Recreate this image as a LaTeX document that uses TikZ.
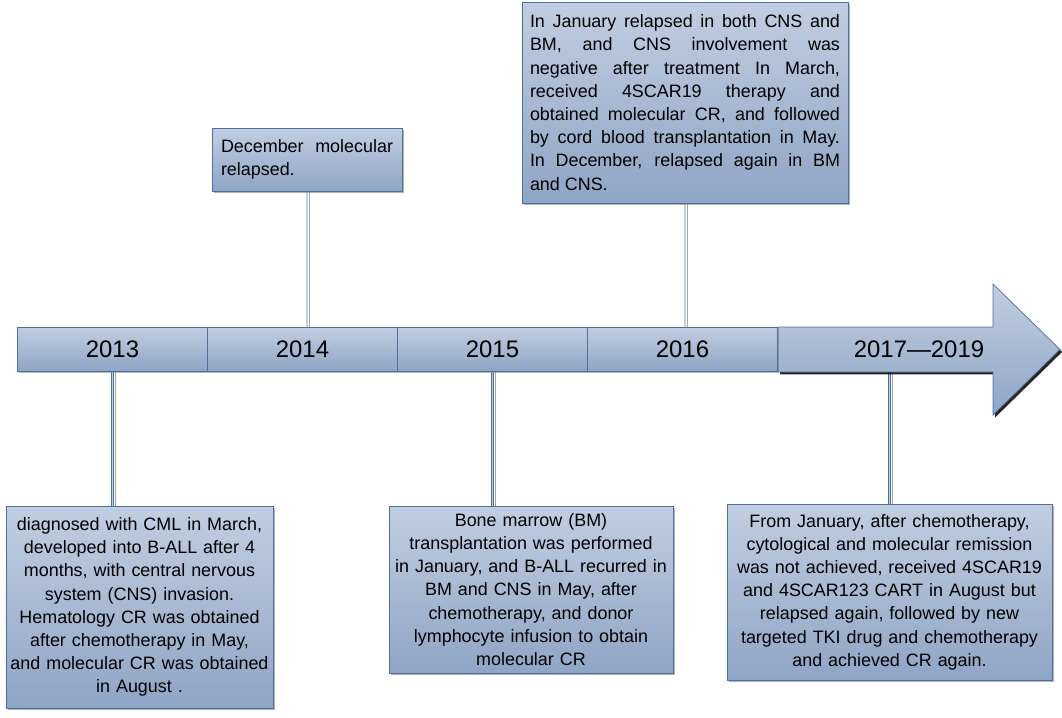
\documentclass[tikz,border=0pt]{standalone}
\usepackage{fontspec}
\setmainfont{Liberation Sans}
\usetikzlibrary{shadows}
\pgfdeclarelayer{bg}
\pgfsetlayers{bg,main}
\definecolor{boxtop}{HTML}{C0CEE1}
\definecolor{boxbot}{HTML}{8FA5C5}
\definecolor{boxedge}{HTML}{4F6F9C}
\tikzset{
    year/.style={rectangle, draw=boxedge, top color=boxtop, bottom color=boxbot, minimum width=3.8cm, minimum height=0.88cm, inner sep=0mm, font=\fontsize{13.6}{16}\selectfont, drop shadow={shadow xshift=0.6pt, shadow yshift=-1.2pt, fill=black!45, opacity=0.6}}
}
\tikzset{
    event/.style={rectangle, draw=boxedge, top color=boxtop, bottom color=boxbot, inner ysep=0mm, inner xsep=0.1cm, font=\fontsize{10.2}{13.2}\selectfont, drop shadow={shadow xshift=1.2pt, shadow yshift=-1.2pt, fill=black!50, opacity=0.6}}
}
\tikzset{
    stem/.style={draw=boxedge, double=boxtop, double distance=0.7pt, line width=0.45pt, preaction={draw=black!35, line width=0.5pt, transform canvas={xshift=1.4pt}}}
}

\begin{document}
\begin{tikzpicture}
        \useasboundingbox (0cm, 0cm) rectangle (21.24cm, -14.34cm);
        \draw [draw=boxedge, top color=boxtop, bottom color=boxbot, drop shadow={shadow xshift=1.2pt, shadow yshift=-1.4pt, fill=black, opacity=0.85}] (15.56cm, -6.54cm) -- (19.86cm, -6.54cm) -- (19.86cm, -5.68cm) -- (21.20cm, -6.99cm) -- (19.86cm, -8.30cm) -- (19.86cm, -7.44cm) -- (15.56cm, -7.44cm) -- cycle;
        \node (y0) [year] at (2.250000cm, -6.980000cm) {2013};
        \node (y1) [year] at (6.050000cm, -6.980000cm) {2014};
        \node (y2) [year] at (9.850000cm, -6.980000cm) {2015};
        \node (y3) [year] at (13.650000cm, -6.980000cm) {2016};
        \node (y4) [minimum height=0.88cm, inner sep=0mm, font=\fontsize{13.6}{16}\selectfont] at (18.380000cm, -6.990000cm) {2017---2019};
        \node (e0) [event, text width=5.3cm, inner xsep=0.02cm, minimum height=4.04cm, align=center] at (2.790000cm, -12.140000cm) {diagnosed with CML in March,\\ developed into B-ALL after 4\\ months, with central nervous\\ system (CNS) invasion.\\ Hematology CR was obtained\\ after chemotherapy in May,\\ and molecular CR was obtained\\ in August .};
        \node (e1) [event, text width=3.44cm, inner xsep=0.18cm, minimum height=1.26cm, align=justify] at (6.140000cm, -3.190000cm) {December molecular\linebreak relapsed.};
        \node (e2) [event, text width=5.48cm, minimum height=3.34cm, align=center] at (10.620000cm, -11.790000cm) {Bone marrow (BM)\\ transplantation was performed\\ in January, and B-ALL recurred in\\ BM and CNS in May, after\\ chemotherapy, and donor\\ lymphocyte infusion to obtain\\ molecular CR};
        \node (e3) [event, text width=6.2cm, inner xsep=0.16cm, minimum height=4.02cm, align=justify] at (13.700000cm, -2.050000cm) {In January relapsed in both CNS and\linebreak BM, and CNS involvement was\linebreak negative after treatment In March,\linebreak received 4SCAR19 therapy and\linebreak obtained molecular CR, and followed\linebreak by cord blood transplantation in May.\linebreak In December, relapsed again in BM\linebreak and CNS.};
        \node (e4) [event, text width=6.3cm, minimum height=3.52cm, align=center] at (17.790000cm, -11.840000cm) {From January, after chemotherapy,\\ cytological and molecular remission\\ was not achieved, received 4SCAR19\\ and 4SCAR123 CART in August but\\ relapsed again, followed by new\\ targeted TKI drug and chemotherapy\\ and achieved CR again.};
        \begin{pgfonlayer}{bg}
                \draw (y0.south) edge [stem] (y0.south |- e0.north);
                \draw (e1.south) edge [stem] (e1.south |- y1.north);
                \draw (y2.south) edge [stem] (y2.south |- e2.north);
                \draw (e3.south) edge [stem] (e3.south |- y3.north);
                \draw (e4.north) edge [stem] (e4.north |- y4.south);
        \end{pgfonlayer}
\end{tikzpicture}
\end{document}
